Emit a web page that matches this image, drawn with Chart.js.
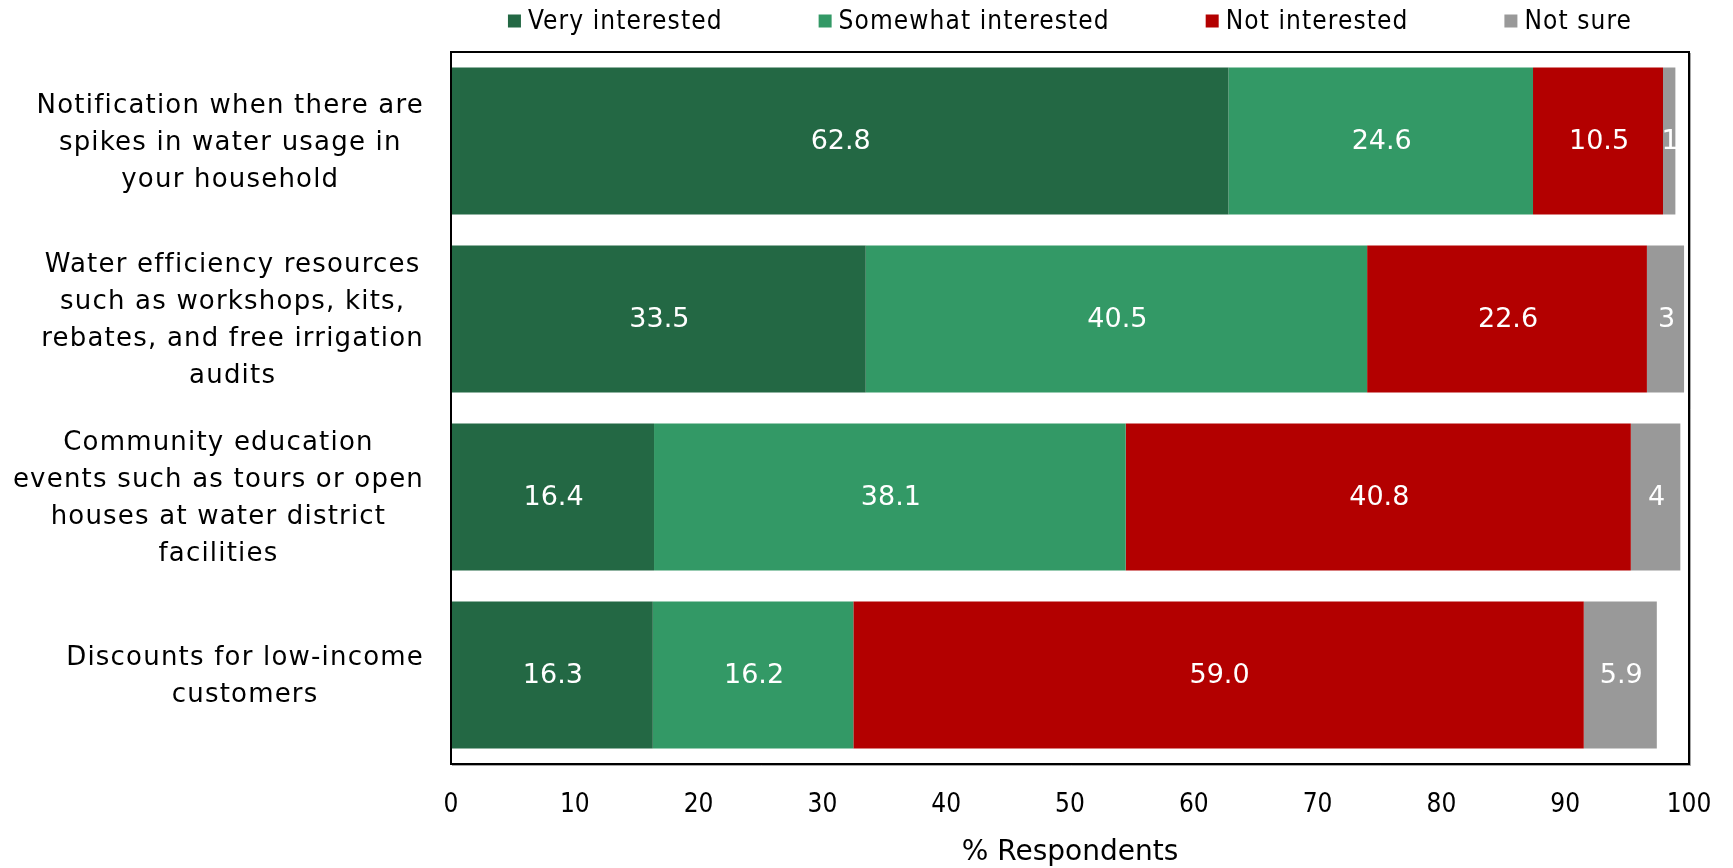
<!DOCTYPE html>
<html>
<head>
<meta charset="utf-8">
<script src="https://cdn.jsdelivr.net/npm/chart.js@4.4.1/dist/chart.umd.min.js"></script>
<style>
  html, body { margin: 0; padding: 0; background: #ffffff; }
  #wrap { width: 1733px; height: 868px; position: relative; }
</style>
</head>
<body>
<div id="wrap"><canvas id="chart"></canvas></div>
<script>
// Survey items (wrapped onto lines) and response shares, in % of respondents
const categories = [
  ['Notification when there are', 'spikes in water usage in', 'your household'],
  ['Water efficiency resources', 'such as workshops, kits,', 'rebates, and free irrigation', 'audits'],
  ['Community education', 'events such as tours or open', 'houses at water district', 'facilities'],
  ['Discounts for low-income', 'customers']
];
const veryInterested     = [62.8, 33.5, 16.4, 16.3];
const somewhatInterested = [24.6, 40.5, 38.1, 16.2];
const notInterested      = [10.5, 22.6, 40.8, 59.0];
const notSure            = [1, 3, 4, 5.9];
const seriesNames  = ['Very interested', 'Somewhat interested', 'Not interested', 'Not sure'];
const seriesColors = ['#236844', '#339966', '#b30000', '#999999'];
const xTicks = [0, 10, 20, 30, 40, 50, 60, 70, 80, 90, 100];

const seriesValues = [veryInterested, somewhatInterested, notInterested, notSure];

const SANS = '"DejaVu Sans", Verdana, sans-serif';
const COND = '"DejaVu Sans Condensed", "DejaVu Sans", sans-serif';

// Value labels in the middle of each segment
const segmentLabels = {
  id: 'segmentLabels',
  afterDatasetsDraw(chart) {
    const ctx = chart.ctx;
    ctx.save();
    ctx.font = '27px ' + SANS;
    ctx.fillStyle = '#ffffff';
    ctx.textAlign = 'center';
    ctx.textBaseline = 'middle';
    chart.data.datasets.forEach((ds, di) => {
      const meta = chart.getDatasetMeta(di);
      meta.data.forEach((bar, i) => {
        const v = ds.data[i];
        const txt = di === 3 ? String(v) : v.toFixed(1);
        ctx.fillText(txt, (bar.x + bar.base) / 2 + 1, bar.y + 1);
      });
    });
    ctx.restore();
  }
};

// Category text: each block right-aligned to the axis, lines centred within it
const categoryLabels = {
  id: 'categoryLabels',
  afterDraw(chart) {
    const ctx = chart.ctx;
    const yScale = chart.scales.y;
    const right = chart.chartArea.left - 27;
    const lineH = 37;
    ctx.save();
    ctx.font = '26px ' + SANS;
    ctx.letterSpacing = '1.2px';
    ctx.fillStyle = '#000000';
    ctx.textAlign = 'center';
    ctx.textBaseline = 'middle';
    categories.forEach((lines, i) => {
      const cy = yScale.getPixelForValue(i);
      const maxW = Math.max(...lines.map(l => ctx.measureText(l).width));
      const cx = right - maxW / 2;
      const y0 = cy - (lines.length - 1) * lineH / 2 + 2;
      lines.forEach((l, k) => ctx.fillText(l, cx, y0 + k * lineH));
    });
    ctx.restore();
  }
};

// Frame around the plotting area
const plotFrame = {
  id: 'plotFrame',
  afterDraw(chart) {
    const { left, top, right, bottom } = chart.chartArea;
    const ctx = chart.ctx;
    ctx.save();
    ctx.strokeStyle = '#000000';
    ctx.lineWidth = 2;
    ctx.strokeRect(left, top, right - left, bottom - top);
    ctx.strokeStyle = 'rgba(0,0,0,0.35)';
    ctx.lineWidth = 1;
    ctx.beginPath();
    ctx.moveTo(left + 1, bottom + 1.5);
    ctx.lineTo(right + 1.5, bottom + 1.5);
    ctx.lineTo(right + 1.5, top + 1);
    ctx.stroke();
    ctx.restore();
  }
};

// Legend row centred over the plotting area
const legendRow = {
  id: 'legendRow',
  afterDraw(chart) {
    const ctx = chart.ctx;
    const box = 13, gapText = 7, gapItem = 96, cy = 21;
    ctx.save();
    ctx.font = '26px ' + COND;
    ctx.letterSpacing = '1.1px';
    ctx.textBaseline = 'middle';
    ctx.textAlign = 'left';
    const items = chart.data.datasets.map(ds => ({
      text: ds.label, color: ds.backgroundColor, w: ctx.measureText(ds.label).width
    }));
    const total = items.reduce((s, it) => s + box + gapText + it.w, 0) + gapItem * (items.length - 1);
    const { left, right } = chart.chartArea;
    let x = (left + right) / 2 - total / 2;
    items.forEach(it => {
      ctx.fillStyle = it.color;
      ctx.fillRect(x, cy - box / 2, box, box);
      ctx.fillStyle = '#000000';
      ctx.fillText(it.text, x + box + gapText, cy + 1);
      x += box + gapText + it.w + gapItem;
    });
    ctx.restore();
  }
};

new Chart(document.getElementById('chart'), {
  type: 'bar',
  data: {
    labels: categories,
    datasets: seriesValues.map((vals, i) => ({
      label: seriesNames[i],
      data: vals,
      backgroundColor: seriesColors[i],
      borderWidth: 0,
      barPercentage: 0.826,
      categoryPercentage: 1.0
    }))
  },
  options: {
    indexAxis: 'y',
    responsive: true,
    maintainAspectRatio: false,
    animation: false,
    layout: { padding: { top: 52, right: 44, bottom: 0, left: 0 } },
    plugins: {
      legend: { display: false },
      tooltip: { enabled: false }
    },
    scales: {
      x: {
        stacked: true,
        min: 0,
        max: 100,
        afterBuildTicks(scale) { scale.ticks = xTicks.map(v => ({ value: v })); },
        afterFit(scale) {
          scale.height = 104;
          scale.paddingLeft = 0;
          scale.paddingRight = 0;
        },
        grid: { display: false, drawTicks: false },
        border: { display: false },
        ticks: {
          padding: 26,
          color: '#000000',
          font: { family: COND, size: 26 },
          maxRotation: 0
        },
        title: {
          display: true,
          text: '% Respondents',
          color: '#000000',
          font: { family: SANS, size: 28 },
          padding: { top: 0, bottom: -2 }
        }
      },
      y: {
        stacked: true,
        afterFit(scale) { scale.width = 451; },
        grid: { display: false, drawTicks: false },
        border: { display: false },
        ticks: { display: false }
      }
    }
  },
  plugins: [segmentLabels, categoryLabels, plotFrame, legendRow]
});
</script>
</body>
</html>
